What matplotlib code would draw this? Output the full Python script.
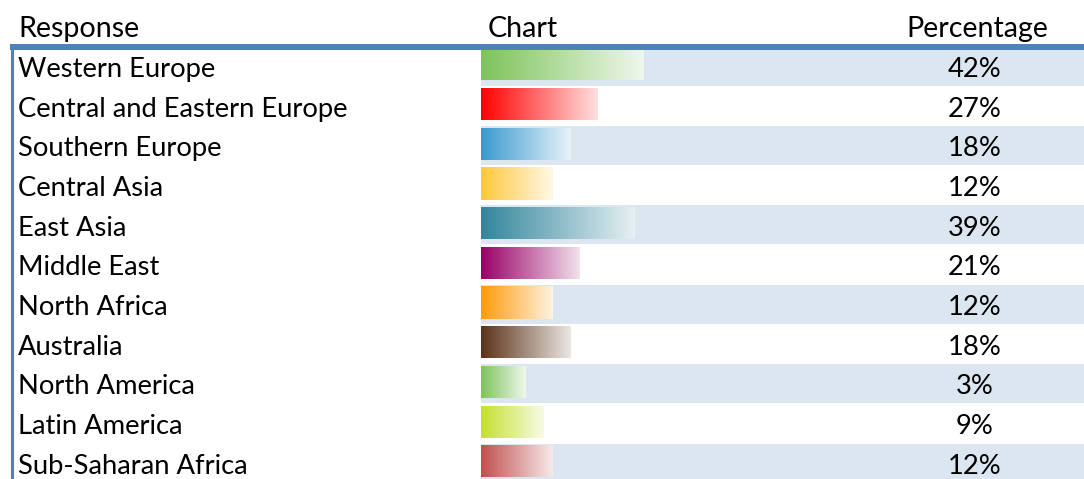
import matplotlib
matplotlib.use("Agg")
import matplotlib.pyplot as plt
import numpy as np
from matplotlib.colors import to_rgb
from matplotlib.transforms import blended_transform_factory

responses = ["Western Europe", "Central and Eastern Europe", "Southern Europe",
             "Central Asia", "East Asia", "Middle East", "North Africa",
             "Australia", "North America", "Latin America", "Sub-Saharan Africa"]
pct = [42, 27, 18, 12, 39, 21, 12, 18, 3, 9, 12]
bar_colors = ["#7dc35b", "#ff0000", "#3a99cf", "#ffc83a", "#31859c", "#990066",
              "#ff9a0a", "#5b3218", "#7dc35b", "#c5e02e", "#c0504d"]
headers = ["Response", "Chart", "Percentage"]

plt.rcParams["font.family"] = ["Lato", "DejaVu Sans"]
FS = 19.7
FS_HEAD = 20.6
BLUE = "#4f81bd"
SHADE = "#dce6f1"

W, H = 1084, 479
TOP, ROW_H = 46.5, 39.7     # pixel top of first row, row pitch
CHART_X = 481               # left edge of chart column
PX_PER_PCT = 3.03
BAR_MIN = 35 / PX_PER_PCT   # excel data bars keep a minimum length

fig = plt.figure(figsize=(W / 100, H / 100), dpi=100)

# chart column: x in percent, y in row units
ax = fig.add_axes([CHART_X / W, 0, 1 - CHART_X / W, (H - TOP) / H])
n = len(responses)
for i in range(0, n, 2):
    ax.axhspan(i, i + 0.985, color=SHADE, lw=0, zorder=0)

for i, (v, c) in enumerate(zip(pct, bar_colors)):
    c0 = np.array(to_rgb(c))
    c1 = c0 * 0.12 + 0.88
    t = np.linspace(0, 1, 256)[:, None]
    grad = (c0 * (1 - t) + c1 * t)[None, :, :]
    bar = ax.barh(i + 0.45, v + BAR_MIN, left=-BAR_MIN, height=0.81,
                  color="none", lw=0)[0]
    im = ax.imshow(grad, extent=[-BAR_MIN, v, i + 0.855, i + 0.045],
                   aspect="auto", zorder=2)
    im.set_clip_path(bar)

ax.set_xlim(-BAR_MIN, -BAR_MIN + (W - CHART_X) / PX_PER_PCT)
ax.set_ylim((H - TOP) / ROW_H, 0)
ax.axis("off")

# overlay in pixel coordinates for lines and text
ov = fig.add_axes([0, 0, 1, 1], facecolor="none")
ov.set_xlim(0, W)
ov.set_ylim(H, 0)
ov.axis("off")
ov.plot([10, W], [47, 47], color=BLUE, lw=4.3, solid_capstyle="butt")
ov.plot([11.5, 11.5], [44, H], color=BLUE, lw=2.2, solid_capstyle="butt")

ov.text(18, 37.3, headers[0], fontsize=FS_HEAD, va="baseline", ha="left")
ov.text(488, 37.3, headers[1], fontsize=FS_HEAD, va="baseline", ha="left")
ov.text(977, 37.3, headers[2], fontsize=FS_HEAD, va="baseline", ha="center")

tr = blended_transform_factory(ov.transData, ax.transData)
for i, (name, v) in enumerate(zip(responses, pct)):
    ov.text(18, i + 0.765, name, fontsize=FS, va="baseline", ha="left", transform=tr)
    ov.text(975, i + 0.765, f"{v}%", fontsize=FS, va="baseline", ha="center", transform=tr)

fig.savefig("out.png", dpi=100)
